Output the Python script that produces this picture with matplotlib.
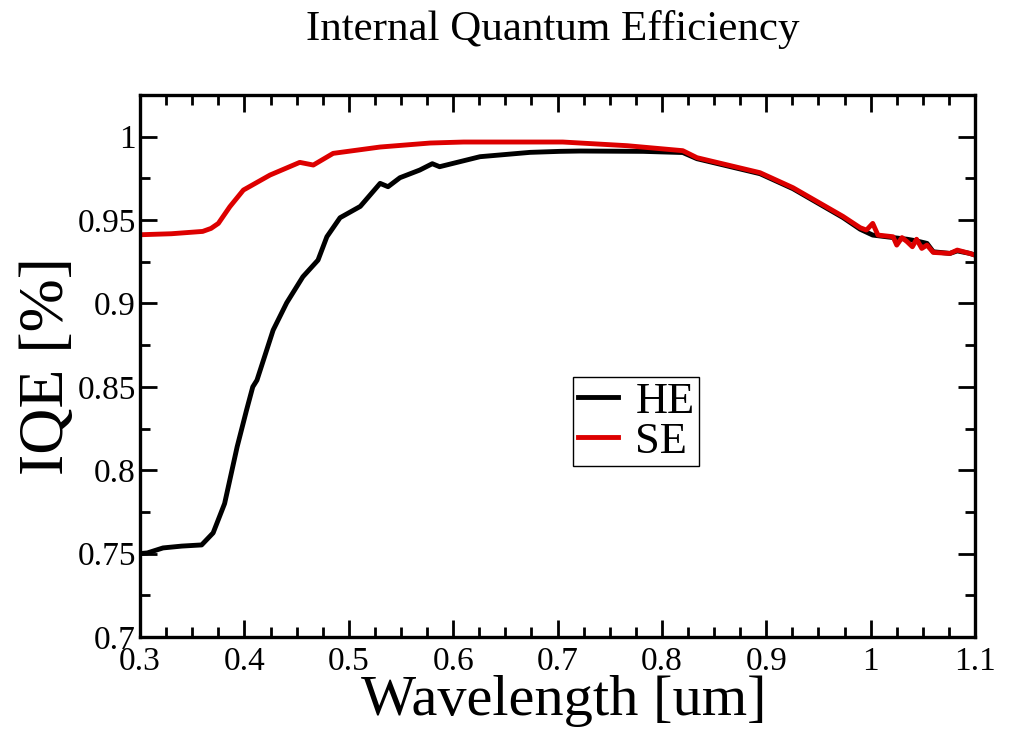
import matplotlib
matplotlib.use("Agg")
import matplotlib.pyplot as plt
from matplotlib.ticker import MultipleLocator

plt.rcParams['font.family'] = ['Liberation Serif', 'DejaVu Serif']
plt.rcParams['mathtext.fontset'] = 'stix'

title = "Internal Quantum Efficiency"
xlabel = "Wavelength [um]"
ylabel = "IQE [%]"

he_x = [0.300, 0.307, 0.322, 0.340, 0.359, 0.370, 0.381, 0.393, 0.402, 0.408, 0.412,
        0.4275, 0.4405, 0.456, 0.4705, 0.479, 0.4916, 0.511, 0.530, 0.5376, 0.549,
        0.568, 0.580, 0.587, 0.6257, 0.6737, 0.702, 0.7216, 0.782, 0.820, 0.8336,
        0.894, 0.9256, 0.9735, 0.990, 1.002, 1.0215, 1.035, 1.044, 1.054, 1.060,
        1.076, 1.083, 1.095, 1.100]
he_y = [0.7500, 0.7504, 0.7534, 0.7545, 0.7552, 0.7624, 0.7800, 0.8140, 0.8360, 0.8500, 0.8540,
        0.8840, 0.9004, 0.9160, 0.9260, 0.9400, 0.9514, 0.9582, 0.9720, 0.9700, 0.9754,
        0.9800, 0.9838, 0.9820, 0.9880, 0.9906, 0.9912, 0.9914, 0.9912, 0.9905, 0.9868,
        0.9778, 0.9688, 0.9515, 0.9445, 0.9410, 0.9395, 0.9385, 0.9375, 0.9360, 0.9310,
        0.9300, 0.9315, 0.9300, 0.9290]

se_x = [0.300, 0.330, 0.360, 0.368, 0.375, 0.386, 0.399, 0.4245, 0.453, 0.466, 0.485,
        0.530, 0.578, 0.610, 0.660, 0.705, 0.7666, 0.820, 0.8336, 0.894, 0.9256,
        0.9735, 0.990, 0.996, 1.002, 1.007, 1.0215, 1.025, 1.030, 1.035, 1.040, 1.044,
        1.049, 1.054, 1.060, 1.076, 1.083, 1.095, 1.100]
se_y = [0.9412, 0.9418, 0.9432, 0.9450, 0.9480, 0.9580, 0.9680, 0.9770, 0.9846, 0.9830, 0.9900,
        0.9938, 0.9962, 0.9968, 0.9968, 0.9968, 0.9946, 0.9916, 0.9874, 0.9784, 0.9694,
        0.9522, 0.9454, 0.9440, 0.9480, 0.9410, 0.9400, 0.9350, 0.9395, 0.9370, 0.9340, 0.9385,
        0.9330, 0.9350, 0.9306, 0.9300, 0.9320, 0.9300, 0.9290]

fig = plt.figure(figsize=(10.15, 7.33), dpi=100)
ax = fig.add_axes([0.138, 0.131, 0.8226, 0.7394])

ax.plot(he_x, he_y, color='black', lw=3.5, label='HE', solid_joinstyle='round')
ax.plot(se_x, se_y, color='#dd0000', lw=3.5, label='SE', solid_joinstyle='round')

ax.set_xlim(0.3, 1.1)
ax.set_ylim(0.7, 1.025)
ax.xaxis.set_minor_locator(MultipleLocator(0.025))
ax.yaxis.set_minor_locator(MultipleLocator(0.025))
ax.set_xticks([0.3, 0.4, 0.5, 0.6, 0.7, 0.8, 0.9, 1.0, 1.1])
ax.set_xticklabels(['0.3', '0.4', '0.5', '0.6', '0.7', '0.8', '0.9', '1', '1.1'])
ax.set_yticks([0.7, 0.75, 0.8, 0.85, 0.9, 0.95, 1.0])
ax.set_yticklabels(['0.7', '0.75', '0.8', '0.85', '0.9', '0.95', '1'])

ax.tick_params(which='both', direction='in', top=True, right=True, width=2, labelsize=24)
ax.tick_params(which='major', length=12)
ax.tick_params(which='minor', length=7)
ax.tick_params(axis='x', which='major', pad=7)
ax.tick_params(axis='y', which='major', pad=3)
for s in ax.spines.values():
    s.set_linewidth(2.4)

ax.set_xlabel(xlabel, fontsize=42, va='center')
ax.xaxis.set_label_coords(0.508, -0.118)
ax.set_ylabel(ylabel, fontsize=46, va='center')
ax.yaxis.set_label_coords(-0.110, 0.50)
fig.text(0.545, 0.960, title, fontsize=31, ha='center', va='center')

leg = ax.legend(loc='upper left', bbox_to_anchor=(0.5186, 0.4797), fontsize=32,
                frameon=True, fancybox=False, edgecolor='black', framealpha=1,
                handlelength=0.9, handletextpad=0.4, borderpad=0.1, labelspacing=0.0,
                borderaxespad=0)
leg.get_frame().set_linewidth(1.0)

fig.savefig('out.png', dpi=100)
